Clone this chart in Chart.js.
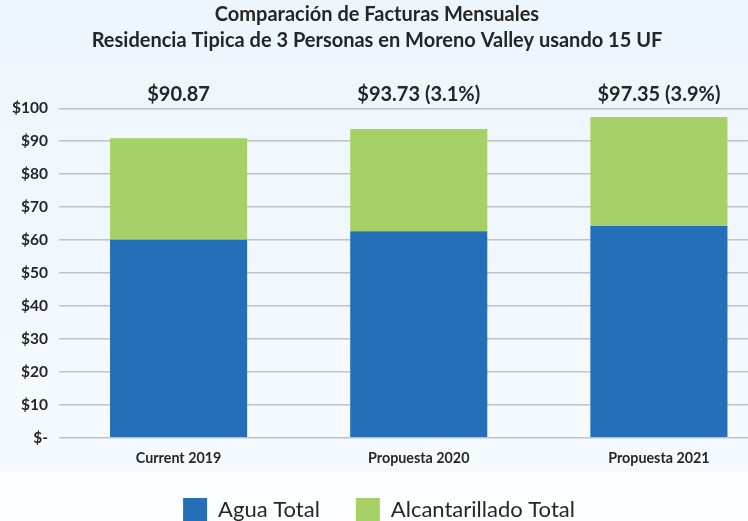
<!DOCTYPE html>
<html>
<head>
<meta charset="utf-8">
<script src="https://cdn.jsdelivr.net/npm/chart.js@4"></script>
<style>
  html, body { margin: 0; padding: 0; background: #fdfeff; overflow: hidden; }
  #wrap { width: 748px; height: 521px; position: relative; overflow: hidden; }
  canvas { display: block; }
</style>
</head>
<body>
<div id="wrap"><canvas id="c" width="779" height="521"></canvas></div>
<script>
const titleLines = ['Comparación de Facturas Mensuales', 'Residencia Tipica de 3 Personas en Moreno Valley usando 15 UF'];
const categories = ['Current 2019', 'Propuesta 2020', 'Propuesta 2021'];
const aguaTotal = [60.1, 62.7, 64.3];
const alcantarilladoTotal = [30.77, 31.03, 33.05];
const totalLabels = ['$90.87', '$93.73 (3.1%)', '$97.35 (3.9%)'];
const seriesNames = ['Agua Total', 'Alcantarillado Total'];
const yTicks = [0, 10, 20, 30, 40, 50, 60, 70, 80, 90, 100];

const TEXT = '#262626';
const FONT = 'Lato, "Open Sans", sans-serif';
const VIEW_W = 748;

const bgPlugin = {
  id: 'bg',
  beforeDraw(chart) {
    const ctx = chart.ctx;
    ctx.save();
    const g = ctx.createLinearGradient(0, 0, 0, 472);
    g.addColorStop(0, '#edf6fc');
    g.addColorStop(1, '#f5fafe');
    ctx.fillStyle = g;
    ctx.fillRect(0, 0, chart.width, 472);
    ctx.fillStyle = '#fdfeff';
    ctx.fillRect(0, 472, chart.width, chart.height - 472);
    ctx.restore();
  }
};

// centre the full-width title/legend blocks on the visible window rather than the wider canvas,
// and let the category labels use the room next to the legend padding
const recentrePlugin = {
  id: 'recentre',
  afterLayout(chart) {
    chart.boxes.forEach(b => {
      if (!b.fullSize) return;
      if (b === chart.legend) {
        const shift = (VIEW_W + 10) / 2 - (b.left + b.right) / 2;
        b.left += shift; b.right += shift;
      } else if (b.position === 'top') {
        const shift = (VIEW_W + 6) / 2 - (b.left + b.right) / 2;
        b.left += shift; b.right += shift;
      }
    });
    const xs = chart.scales.x;
    xs.bottom += 14; xs.height += 14;
  }
};

const totalsPlugin = {
  id: 'totals',
  afterDatasetsDraw(chart) {
    const ctx = chart.ctx;
    const xs = chart.scales.x;
    ctx.save();
    ctx.font = 'bold 20px ' + FONT;
    ctx.fillStyle = TEXT;
    ctx.textAlign = 'center';
    ctx.textBaseline = 'middle';
    totalLabels.forEach((t, i) => {
      ctx.fillText(t, xs.getPixelForValue(i), chart.chartArea.top - 13.5);
    });
    ctx.restore();
  }
};

new Chart(document.getElementById('c'), {
  type: 'bar',
  data: {
    labels: categories,
    datasets: [
      { label: seriesNames[0], data: aguaTotal, backgroundColor: '#256eb8', borderWidth: 0 },
      { label: seriesNames[1], data: alcantarilladoTotal, backgroundColor: '#a6d169', borderWidth: 0 }
    ]
  },
  options: {
    responsive: false,
    animation: false,
    devicePixelRatio: 1,
    layout: { padding: { left: 0, right: 0, top: 0, bottom: -11 } },
    datasets: { bar: { barPercentage: 1, categoryPercentage: 137 / 240 } },
    scales: {
      x: {
        stacked: true,
        grid: { display: false, drawTicks: false },
        border: { display: false },
        ticks: {
          color: TEXT, font: { family: FONT, size: 14.3, weight: 'bold', lineHeight: 1.2 },
          padding: 12, maxRotation: 0, autoSkip: false
        },
        afterFit(s) { s.height = 24.3; }
      },
      y: {
        stacked: true,
        min: 0, max: 100,
        afterBuildTicks(s) { s.ticks = yTicks.map(v => ({ value: v })); },
        grid: { color: '#c2c2c2', lineWidth: 1.5, drawTicks: false },
        border: { display: false },
        ticks: {
          color: TEXT, font: { family: FONT, size: 15.5, weight: 'bold' },
          padding: 10.5,
          callback: v => v === 0 ? '$-' : '$' + v
        },
        afterFit(s) { s.width = 58.5; }
      }
    },
    plugins: {
      title: {
        display: true, text: titleLines[0], color: TEXT,
        font: { family: FONT, size: 20, weight: 'bold', lineHeight: 1.2 },
        padding: { top: 3, bottom: 0 }
      },
      subtitle: {
        display: true, text: titleLines[1], color: TEXT,
        font: { family: FONT, size: 20, weight: 'bold', lineHeight: 1.2 },
        padding: { top: 2, bottom: 55.3 }
      },
      legend: {
        position: 'bottom',
        labels: {
          boxWidth: 24, boxHeight: 24, padding: 36, color: TEXT,
          font: { family: FONT, size: 22 }
        }
      },
      tooltip: { enabled: false }
    }
  },
  plugins: [bgPlugin, recentrePlugin, totalsPlugin]
});
</script>
</body>
</html>
